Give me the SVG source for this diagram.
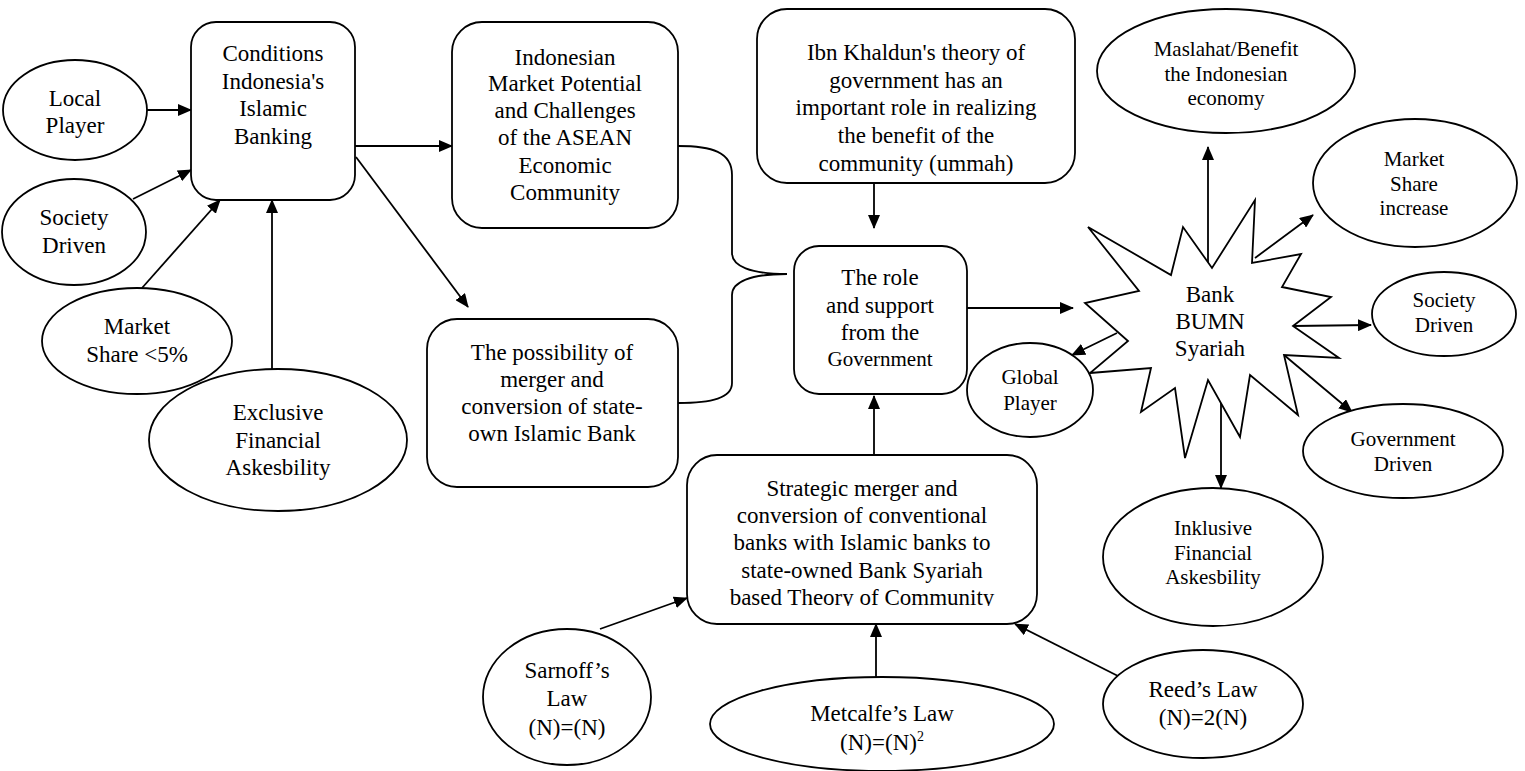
<svg xmlns="http://www.w3.org/2000/svg" width="1525" height="771" viewBox="0 0 1525 771" font-family="'Liberation Serif', 'Times New Roman', Tinos, 'DejaVu Serif', serif">
<defs>
<marker id="ah" markerWidth="14" markerHeight="12" refX="13" refY="6" orient="auto" markerUnits="userSpaceOnUse"><path d="M0,0 L14,6 L0,12 Z" fill="#000"/></marker>
<clipPath id="clipS"><rect x="687" y="455" width="350" height="151"/></clipPath>
</defs>
<style>
.n{fill:#fff;stroke:#000;stroke-width:1.8}
.c{fill:none;stroke:#000;stroke-width:1.8}
.a{marker-end:url(#ah)}
text{font-family:'Liberation Serif','Times New Roman',Tinos,'DejaVu Serif',serif;font-size:23px;text-anchor:middle;fill:#000}
.s{font-size:21px}
</style>
<rect width="1525" height="771" fill="#fff"/>
<g id="connectors">
<line class="c a" x1="147" y1="110" x2="191" y2="110"/>
<line class="c a" x1="133" y1="199" x2="191" y2="170"/>
<line class="c a" x1="142" y1="288" x2="220" y2="200"/>
<line class="c a" x1="272" y1="369" x2="272" y2="200"/>
<line class="c a" x1="355" y1="146" x2="452" y2="146"/>
<line class="c a" x1="356" y1="157" x2="468" y2="307"/>
<path class="c" d="M678,146 C712,146 732,152 732,175 L732,253 C732,266 750,274 787,274 C750,274 732,282 732,295 L732,383 C732,398 712,403 678,403"/>
<line class="c a" x1="874" y1="183" x2="874" y2="228"/>
<line class="c a" x1="874" y1="455" x2="874" y2="396"/>
<line class="c a" x1="967" y1="308" x2="1073" y2="308"/>
<line class="c a" x1="600" y1="629" x2="687" y2="598"/>
<line class="c a" x1="876" y1="677" x2="876" y2="624"/>
<line class="c a" x1="1118" y1="676" x2="1015" y2="624"/>
<line class="c a" x1="1208" y1="268" x2="1208" y2="147"/>
<line class="c a" x1="1255" y1="258" x2="1313" y2="215"/>
<line class="c a" x1="1293" y1="326" x2="1371" y2="325"/>
<line class="c a" x1="1284" y1="355" x2="1352" y2="412"/>
<line class="c a" x1="1221" y1="401" x2="1221" y2="488"/>
<line class="c a" x1="1117" y1="333" x2="1072" y2="355"/>
</g>
<g id="local-player"><ellipse class="n" cx="75" cy="110" rx="72" ry="50"/><text x="75" y="106">Local</text><text x="75" y="133">Player</text></g>
<g id="society-driven-left"><ellipse class="n" cx="74" cy="232" rx="72" ry="53"/><text x="74" y="225">Society</text><text x="74" y="253">Driven</text></g>
<g id="market-share-5"><ellipse class="n" cx="137" cy="341" rx="95" ry="53"/><text x="137" y="334">Market</text><text x="137" y="362">Share &lt;5%</text></g>
<g id="exclusive"><ellipse class="n" cx="278" cy="440" rx="129" ry="71"/><text x="278" y="420">Exclusive</text><text x="278" y="448">Financial</text><text x="278" y="475">Askesbility</text></g>
<g id="conditions"><rect class="n" x="191" y="22" width="164" height="178" rx="25"/><text x="273" y="61">Conditions</text><text x="273" y="89">Indonesia's</text><text x="273" y="116">Islamic</text><text x="273" y="144">Banking</text></g>
<g id="indonesian-market"><rect class="n" x="452" y="22" width="226" height="206" rx="30"/><text x="565" y="65">Indonesian</text><text x="565" y="91">Market Potential</text><text x="565" y="118">and Challenges</text><text x="565" y="145">of the ASEAN</text><text x="565" y="173">Economic</text><text x="565" y="200">Community</text></g>
<g id="possibility"><rect class="n" x="427" y="319" width="251" height="168" rx="30"/><text x="552" y="360">The possibility of</text><text x="552" y="387">merger and</text><text x="552" y="414">conversion of state-</text><text x="552" y="441">own Islamic Bank</text></g>
<g id="ibn-khaldun"><rect class="n" x="757" y="9" width="318" height="174" rx="30"/><text x="916" y="60">Ibn Khaldun's theory of</text><text x="916" y="88">government has an</text><text x="916" y="115">important role in realizing</text><text x="916" y="143">the benefit of the</text><text x="916" y="171">community (ummah)</text></g>
<g id="government"><rect class="n" x="794" y="246" width="173" height="148" rx="25"/><text x="880" y="285">The role</text><text x="880" y="313">and support</text><text x="880" y="340">from the</text><text class="s" x="880" y="366">Government</text></g>
<g id="strategic"><rect class="n" x="687" y="455" width="350" height="169" rx="30"/><g clip-path="url(#clipS)"><text x="862" y="496">Strategic merger and</text><text x="862" y="523">conversion of conventional</text><text x="862" y="550">banks with Islamic banks to</text><text x="862" y="578">state-owned Bank Syariah</text><text x="862" y="605">based Theory of Community</text></g></g>
<g id="sarnoff"><ellipse class="n" cx="567" cy="697" rx="84" ry="68"/><text x="567" y="678">Sarnoff’s</text><text x="567" y="706">Law</text><text x="567" y="735">(N)=(N)</text></g>
<g id="metcalfe"><ellipse class="n" cx="882" cy="724" rx="172" ry="47"/><text x="882" y="721">Metcalfe’s Law</text><text x="882" y="750">(N)=(N)<tspan dy="-9" font-size="14">2</tspan></text></g>
<g id="reed"><ellipse class="n" cx="1203" cy="704" rx="100" ry="54"/><text x="1203" y="697">Reed’s Law</text><text x="1203" y="725">(N)=2(N)</text></g>
<g id="bank-bumn-syariah"><polygon class="n" points="1088,227 1171,275 1183,227 1212,268 1255,200 1252,263 1301,254 1282,287 1331,297 1293,326 1339,358 1284,355 1298,415 1250,375 1240,437 1208,380 1185,458 1175,388 1141,412 1151,368 1090,373 1128,341 1085,303 1139,291"/><text x="1210" y="302">Bank</text><text x="1210" y="329">BUMN</text><text x="1210" y="356">Syariah</text></g>
<g id="global-player"><ellipse class="n" cx="1030" cy="390" rx="63" ry="47"/><text class="s" x="1030" y="384">Global</text><text class="s" x="1030" y="410">Player</text></g>
<g id="maslahat"><ellipse class="n" cx="1226" cy="71" rx="129" ry="62"/><text class="s" x="1226" y="56">Maslahat/Benefit</text><text class="s" x="1226" y="81">the Indonesian</text><text class="s" x="1226" y="105">economy</text></g>
<g id="market-share-increase"><ellipse class="n" cx="1415" cy="183" rx="102" ry="64"/><text class="s" x="1414" y="166">Market</text><text class="s" x="1414" y="191">Share</text><text class="s" x="1414" y="215">increase</text></g>
<g id="society-driven-right"><ellipse class="n" cx="1444" cy="314" rx="72" ry="42"/><text class="s" x="1444" y="307">Society</text><text class="s" x="1444" y="332">Driven</text></g>
<g id="government-driven"><ellipse class="n" cx="1403" cy="451" rx="100" ry="47"/><text class="s" x="1403" y="446">Government</text><text class="s" x="1403" y="471">Driven</text></g>
<g id="inklusive"><ellipse class="n" cx="1213" cy="557" rx="110" ry="69"/><text class="s" x="1213" y="535">Inklusive</text><text class="s" x="1213" y="560">Financial</text><text class="s" x="1213" y="584">Askesbility</text></g>
</svg>
